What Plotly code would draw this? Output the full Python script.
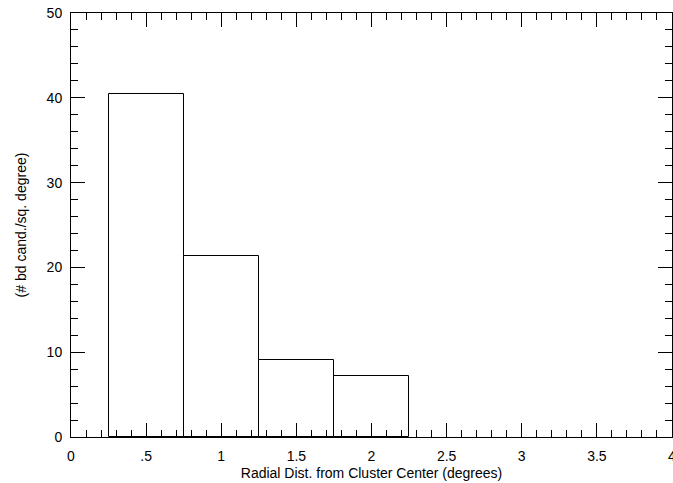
import plotly.graph_objects as go

bin_centers = [0.5, 1.0, 1.5, 2.0]
bin_width = 0.5
density = [40.5, 21.4, 9.05, 7.15]

x_tickvals = [0, 0.5, 1, 1.5, 2, 2.5, 3, 3.5, 4]
x_ticktext = ["0", ".5", "1", "1.5", "2", "2.5", "3", "3.5", "4"]
y_tickvals = [0, 10, 20, 30, 40, 50]
y_ticktext = ["0", "10", "20", "30", "40", "50"]

fig = go.Figure()
fig.add_trace(go.Bar(
    x=bin_centers, y=density, width=[bin_width] * len(bin_centers),
    marker=dict(color="white", line=dict(color="black", width=1)),
    showlegend=False,
))

font = dict(family="Liberation Sans, Arial, sans-serif", size=14, color="black")
axis_common = dict(
    showgrid=False, zeroline=False, showline=True, linecolor="black", linewidth=1,
    mirror="ticks", ticks="inside", ticklen=14, tickwidth=1, tickcolor="black",
    tickfont=font, ticklabeloverflow="allow",
)
fig.update_xaxes(
    range=[0, 4], tickvals=x_tickvals, ticktext=x_ticktext,
    minor=dict(ticks="inside", ticklen=7, dtick=0.1, tick0=0, tickcolor="black", tickwidth=1),
    title=dict(text="Radial Dist. from Cluster Center (degrees)", font=font, standoff=5),
    ticklabelstandoff=6,
    **axis_common,
)
fig.update_yaxes(
    range=[0, 50], tickvals=y_tickvals, ticktext=y_ticktext,
    minor=dict(ticks="inside", ticklen=7, dtick=2, tick0=0, tickcolor="black", tickwidth=1),
    title=dict(text="(# bd cand./sq. degree)", font=font, standoff=16),
    ticklabelstandoff=5,
    **axis_common,
)
fig.update_layout(
    width=676, height=483,
    margin=dict(l=71, r=0, t=13, b=46, pad=0),
    plot_bgcolor="white", paper_bgcolor="white",
    font=font, bargap=0,
)
fig.write_html("out.html")
